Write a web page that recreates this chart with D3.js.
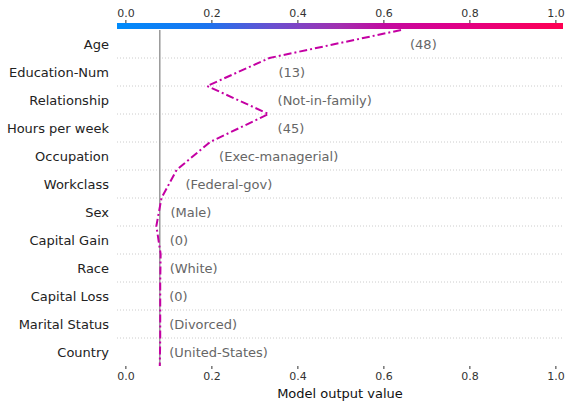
<!DOCTYPE html><html><head><meta charset="utf-8"><script src="https://cdn.jsdelivr.net/npm/d3@7"></script>
<style>body{margin:0;background:#fff}text{font-family:"DejaVu Sans",sans-serif}</style></head><body><svg id="c" width="570" height="407"></svg>
<script>
const features=["Age","Education-Num","Relationship","Hours per week","Occupation","Workclass","Sex","Capital Gain","Race","Capital Loss","Marital Status","Country"];
const featureValues=["(48)","(13)","(Not-in-family)","(45)","(Exec-managerial)","(Federal-gov)","(Male)","(0)","(White)","(0)","(Divorced)","(United-States)"];
// cumulative model output at the top boundary of each feature row, then the base value
const cumValues=[0.641,0.335,0.19,0.333,0.197,0.119,0.084,0.072,0.082,0.081,0.081,0.081,0.080];
const baseValue=0.080;
const ticks=[0,0.2,0.4,0.6,0.8,1.0];
const svg=d3.select("#c");
const L=117,R=563,T=30,B=366;
const x=d3.scaleLinear().domain([-0.0195,1.0177]).range([L,R]);
const y=d3.scaleLinear().domain([0,features.length]).range([T,B]);
for(let i=1;i<features.length;i++) svg.append("line").attr("x1",L).attr("x2",R).attr("y1",y(i)).attr("y2",y(i)).attr("stroke","#ccc").attr("stroke-dasharray","1,2");
svg.append("line").attr("x1",x(baseValue)).attr("x2",x(baseValue)).attr("y1",T).attr("y2",B).attr("stroke","#999").attr("stroke-width",1.5);
const g=svg.append("defs").append("linearGradient").attr("id","cb");
[[0,"#008bfb"],[0.2,"#1b74ef"],[0.35,"#6a4fd0"],[0.5,"#a22fb0"],[0.6,"#c20aa0"],[0.75,"#de008a"],[1,"#ff0052"]].forEach(s=>g.append("stop").attr("offset",s[0]).attr("stop-color",s[1]));
svg.append("rect").attr("x",L).attr("y",23).attr("width",R-L).attr("height",6).attr("fill","url(#cb)");
const axTop=svg.append("g").attr("transform","translate(0,23)").call(d3.axisTop(x).tickValues(ticks).tickFormat(d3.format(".1f")).tickSize(3));
const axBot=svg.append("g").attr("transform",`translate(0,${B})`).call(d3.axisBottom(x).tickValues(ticks).tickFormat(d3.format(".1f")).tickSize(3));
[axTop,axBot].forEach(a=>{a.select(".domain").remove();a.selectAll("text").attr("font-size",11).attr("fill","#333").attr("font-family","DejaVu Sans");a.selectAll("line").attr("stroke","#333");});
svg.append("text").attr("x",(L+R)/2).attr("y",398).attr("text-anchor","middle").attr("font-size",13).attr("fill","#111").text("Model output value");
features.forEach((f,i)=>svg.append("text").attr("x",109).attr("y",y(i+0.5)).attr("dy","0.35em").attr("text-anchor","end").attr("font-size",13).attr("fill","#222").text(f));
const pts=cumValues.map((v,i)=>[x(v),y(i)]);
svg.append("path").attr("d",d3.line()(pts)).attr("fill","none").attr("stroke","#c400a3").attr("stroke-width",2).attr("stroke-dasharray","8,3,2,3");
featureValues.forEach((t,i)=>svg.append("text").attr("x",Math.max(x(cumValues[i]),x(cumValues[i+1]))+9).attr("y",y(i+0.5)).attr("dy","0.35em").attr("font-size",13).attr("fill","#666").text(t));
</script></body></html>
